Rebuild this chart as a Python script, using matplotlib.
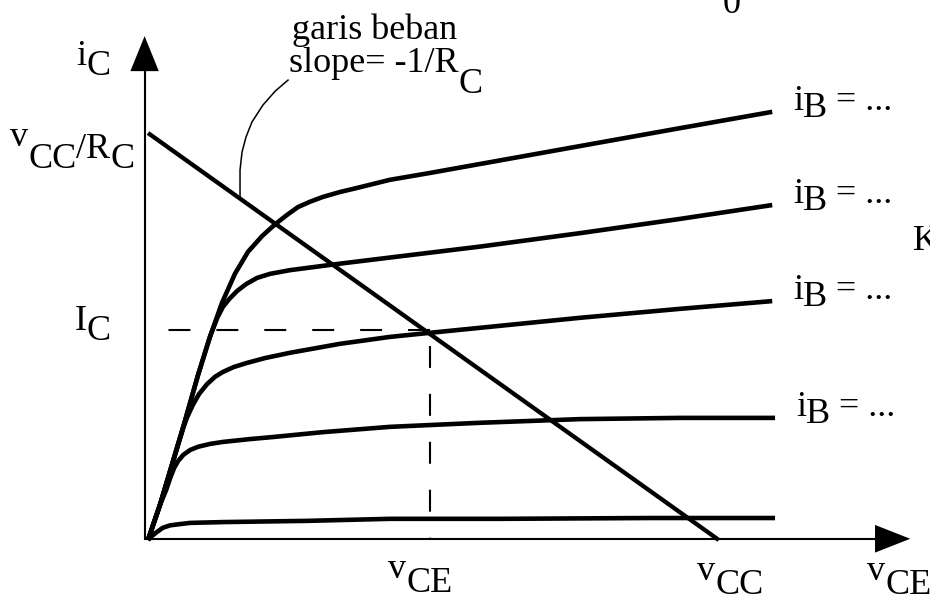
import matplotlib.pyplot as plt
from matplotlib.transforms import offset_copy
from matplotlib.patches import Polygon

plt.rcParams['lines.scale_dashes'] = False

# --- BJT output characteristics (vCE in units of VCC/10, iC in units of VCC/RC/10) ---
ib5_v = [0, 0.21, 0.42, 0.65, 0.88, 1.09, 1.30, 1.53, 1.76, 2.01, 2.24, 2.45, 2.64, 2.85, 3.08, 3.38, 3.68, 4.26, 4.97, 5.85, 7.61, 9.37, 10.99]
ib5_i = [0, 0.86, 1.84, 2.92, 4.05, 4.99, 5.82, 6.54, 7.08, 7.47, 7.76, 7.99, 8.18, 8.31, 8.43, 8.55, 8.65, 8.85, 9.02, 9.24, 9.68, 10.12, 10.52]

ib4_v = [0, 0.21, 0.42, 0.65, 0.88, 1.09, 1.22, 1.32, 1.43, 1.57, 1.73, 1.92, 2.15, 2.50, 2.94, 3.38, 4.26, 5.85, 7.61, 9.37, 10.99]
ib4_i = [0, 0.86, 1.84, 2.92, 4.05, 4.99, 5.46, 5.73, 5.92, 6.12, 6.29, 6.44, 6.54, 6.63, 6.71, 6.79, 6.94, 7.21, 7.54, 7.89, 8.23]

ib3_v = [0, 0.21, 0.42, 0.62, 0.69, 0.79, 0.90, 1.04, 1.18, 1.32, 1.51, 1.74, 2.06, 2.50, 3.38, 4.26, 4.96, 7.61, 9.37, 10.99]
ib3_i = [0, 0.86, 1.84, 2.75, 3.02, 3.32, 3.59, 3.83, 4.01, 4.13, 4.25, 4.35, 4.47, 4.60, 4.82, 4.99, 5.09, 5.46, 5.68, 5.87]

ib2_v = [0, 0.21, 0.32, 0.39, 0.46, 0.53, 0.62, 0.74, 0.88, 1.09, 1.32, 1.80, 2.20, 3.08, 4.26, 5.85, 7.61, 9.37, 11.04]
ib2_i = [0, 0.86, 1.23, 1.52, 1.77, 1.94, 2.09, 2.21, 2.29, 2.36, 2.41, 2.48, 2.53, 2.65, 2.78, 2.88, 2.97, 3.00, 3.00]

ib1_v = [0, 0.07, 0.16, 0.26, 0.39, 0.56, 0.74, 1.32, 2.80, 4.26, 6.20, 8.84, 11.04]
ib1_i = [0, 0.10, 0.20, 0.30, 0.36, 0.39, 0.42, 0.44, 0.47, 0.52, 0.52, 0.54, 0.54]

# load line end points and operating point
vcc = 10.05
ic_sat = 10.0
vce_q = 4.96
ic_q = 5.15

# leader from the load line to the "garis beban" note
leader_v = [1.62, 1.62, 1.655, 1.725, 1.83, 2.025, 2.24, 2.465]
leader_i = [8.43, 9.09, 9.53, 9.90, 10.27, 10.69, 11.03, 11.30]

curves = [(ib5_v, ib5_i), (ib4_v, ib4_i), (ib3_v, ib3_i), (ib2_v, ib2_i), (ib1_v, ib1_i)]
labelled = [(ib5_v, ib5_i), (ib4_v, ib4_i), (ib3_v, ib3_i), (ib2_v, ib2_i)]

FONT = 'Liberation Serif'
FS = 26

fig = plt.figure(figsize=(9.3, 6.01), dpi=100)
ax = fig.add_axes([0, 0, 1, 1])
ax.set_xlim(-2.606, 13.768)
ax.set_ylim(-1.499, 13.268)
ax.axis('off')

# axes with arrow heads
ax.plot([-0.06, -0.06], [0, 11.55], color='black', lw=1.5, solid_capstyle='butt')
ax.plot([-0.06, 12.82], [0.03, 0.03], color='black', lw=1.5, solid_capstyle='butt')
ax.add_patch(Polygon([[-0.06, 12.38], [-0.31, 11.52], [0.19, 11.52]], closed=True, color='black', lw=0))
ax.add_patch(Polygon([[13.42, 0.03], [12.80, 0.37], [12.80, -0.31]], closed=True, color='black', lw=0))

for v, i in curves:
    ax.plot(v, i, color='black', lw=3.3, solid_joinstyle='round', solid_capstyle='butt')

ax.plot([0, vcc], [ic_sat, 0], color='black', lw=3.1, solid_capstyle='butt')
ax.plot(leader_v, leader_i, color='black', lw=1.1)

# operating point projections
ax.plot([vce_q, -0.06], [ic_q, ic_q], color='black', lw=1.5, linestyle=(0, (15.8, 18.7)))
ax.plot([vce_q, vce_q], [ic_q, 0.03], color='black', lw=1.5, linestyle=(23, (15.8, 18.7)))

renderer = fig.canvas.get_renderer()
inv = ax.transData.inverted()


def put(x, y, parts, size=FS):
    # parts: (text, drop below the baseline in points)
    for txt, drop in parts:
        tr = offset_copy(ax.transData, fig=fig, y=-drop, units='points')
        t = ax.text(x, y, txt, transform=tr, fontsize=size, family=FONT,
                    va='baseline', ha='left')
        bb = t.get_window_extent(renderer)
        x = inv.transform((bb.x1, bb.y0))[0]


put(-1.27, 11.67, [('i', 0), ('C', 7.2)])
put(2.54, 12.31, [('garis beban', 0)])
put(2.48, 11.50, [('slope= -1/R', 0), ('C', 15)])
put(-2.43, 9.68, [('v', 0), ('CC', 15.8), ('/R', 8.6), ('C', 15.8)])
put(-1.29, 5.16, [('I', 0), ('C', 7.2)])
put(4.23, -0.93, [('v', 0), ('CE', 10.5)])
put(9.67, -0.98, [('v', 0), ('CC', 10)])
put(12.66, -0.98, [('v', 0), ('CE', 10)])
put(10.11, 12.95, [('0', 0)])
put(13.47, 7.13, [('K', 0)])

for v, i in labelled:
    put(v[-1] + 0.37, i[-1] + 0.05, [('i', 0), ('B', 5), (' = ...', 0)])

fig.savefig('out.png', dpi=100)
